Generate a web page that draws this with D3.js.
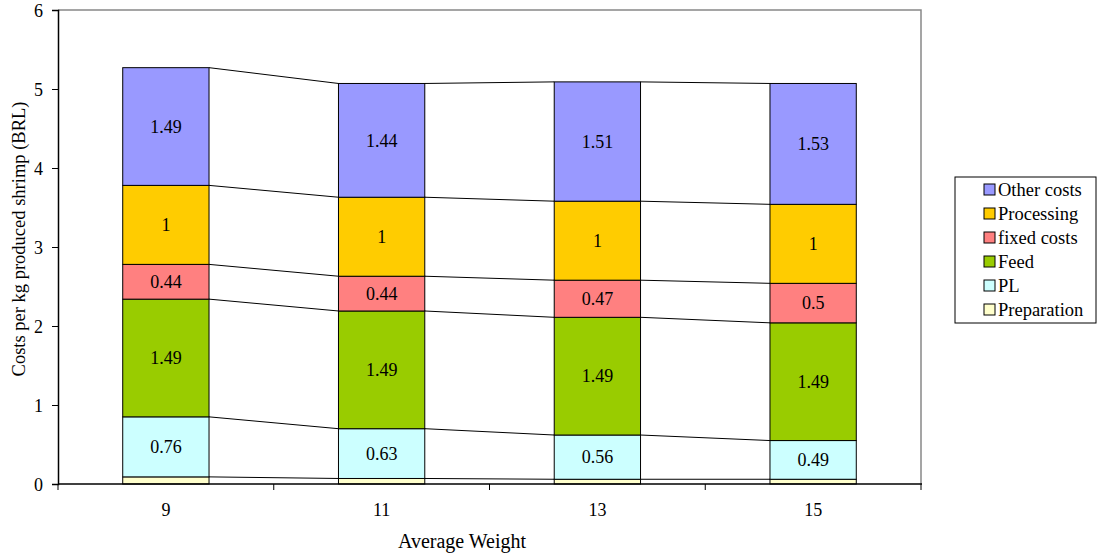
<!DOCTYPE html>
<html>
<head>
<meta charset="utf-8">
<script src="https://cdn.jsdelivr.net/npm/d3@7"></script>
<style>
  body { margin: 0; background: #fff; }
  svg { display: block; }
  svg text { font-family: "Liberation Serif", "DejaVu Serif", serif; fill: #000; }
</style>
</head>
<body>
<svg id="chart" width="1099" height="555"></svg>
<script>
// Cost components per kg of produced shrimp, by average harvest weight
const weights = ["9", "11", "13", "15"];
const seriesNames = ["Preparation", "PL", "Feed", "fixed costs", "Processing", "Other costs"];
const preparation = [0.09, 0.07, 0.06, 0.06];
const pl          = [0.76, 0.63, 0.56, 0.49];
const feed        = [1.49, 1.49, 1.49, 1.49];
const fixedCosts  = [0.44, 0.44, 0.47, 0.5];
const processing  = [1, 1, 1, 1];
const otherCosts  = [1.49, 1.44, 1.51, 1.53];
const yTicks = [0, 1, 2, 3, 4, 5, 6];

const seriesValues = [preparation, pl, feed, fixedCosts, processing, otherCosts];
const colors = ["#FFFFCC", "#CCFFFF", "#99CC00", "#FF8080", "#FFCC00", "#9999FF"];
const showLabel = [false, true, true, true, true, true];
const serif = "Liberation Serif, DejaVu Serif, serif";

const rows = weights.map((w, i) => {
  const r = { w };
  seriesNames.forEach((s, k) => { r[s] = seriesValues[k][i]; });
  return r;
});
const stacked = d3.stack().keys(seriesNames)(rows);

const svg = d3.select("#chart");
const pLeft = 58, pRight = 921, pTop = 10, pBottom = 484;

const x = d3.scaleBand().domain(weights).range([pLeft, pRight]).paddingInner(0.6).paddingOuter(0.3);
const xOuter = d3.scaleBand().domain(weights).range([pLeft, pRight]);
const y = d3.scaleLinear().domain([0, 6]).range([pBottom, pTop]);

// plot frame (top and right)
svg.append("path")
  .attr("d", `M${pLeft},${pTop}H${pRight}V${pBottom}`)
  .attr("fill", "none").attr("stroke", "#888").attr("stroke-width", 1.5);

// connector lines between stack boundaries of adjacent bars
stacked.forEach(layer => {
  for (let i = 0; i < weights.length - 1; i++) {
    svg.append("line")
      .attr("x1", x(weights[i]) + x.bandwidth())
      .attr("y1", y(layer[i][1]))
      .attr("x2", x(weights[i + 1]))
      .attr("y2", y(layer[i + 1][1]))
      .attr("stroke", "#000").attr("stroke-width", 1);
  }
});

// stacked bars
stacked.forEach((layer, k) => {
  const g = svg.append("g");
  g.selectAll("rect").data(layer).join("rect")
    .attr("x", (d, i) => x(weights[i]))
    .attr("y", d => y(d[1]))
    .attr("width", x.bandwidth())
    .attr("height", d => y(d[0]) - y(d[1]))
    .attr("fill", colors[k])
    .attr("stroke", "#000").attr("stroke-width", 1);
  if (showLabel[k]) {
    g.selectAll("text").data(layer).join("text")
      .attr("x", (d, i) => x(weights[i]) + x.bandwidth() / 2)
      .attr("y", d => (y(d[0]) + y(d[1])) / 2)
      .attr("dy", "0.35em")
      .attr("text-anchor", "middle")
      .attr("font-family", serif)
      .attr("font-size", 18)
      .text((d, i) => seriesValues[k][i]);
  }
});

// y axis
const yAxis = svg.append("g")
  .attr("transform", `translate(${pLeft},0)`)
  .call(d3.axisLeft(y).tickValues(yTicks).tickSize(6).tickPadding(9).tickFormat(d3.format("d")));
yAxis.select(".domain").attr("stroke", "#000").attr("stroke-width", 1.5);
yAxis.selectAll(".tick text").attr("font-size", 18).attr("font-family", serif).attr("dy", "0.38em");

// x axis: ticks at category boundaries
const xAxis = svg.append("g").attr("transform", `translate(0,${pBottom})`);
xAxis.append("line").attr("x1", pLeft).attr("x2", pRight + 1).attr("stroke", "#000").attr("stroke-width", 1.5);
xAxis.selectAll("line.tick").data(weights.concat(["end"])).join("line")
  .attr("class", "tick")
  .attr("x1", (d, i) => i < weights.length ? xOuter(d) : pRight)
  .attr("x2", (d, i) => i < weights.length ? xOuter(d) : pRight)
  .attr("y1", 0).attr("y2", 6).attr("stroke", "#000");
xAxis.selectAll("text").data(weights).join("text")
  .attr("x", d => x(d) + x.bandwidth() / 2)
  .attr("y", 32)
  .attr("text-anchor", "middle")
  .attr("font-family", serif)
  .attr("font-size", 18)
  .text(d => d);

// axis titles
svg.append("text")
  .attr("x", 462).attr("y", 548)
  .attr("text-anchor", "middle").attr("font-size", 20).attr("font-family", serif)
  .text("Average Weight");
svg.append("text")
  .attr("transform", `translate(25,239) rotate(-90)`)
  .attr("text-anchor", "middle").attr("font-size", 18.5).attr("font-family", serif)
  .text("Costs per kg produced shrimp (BRL)");

// legend
const lg = svg.append("g").attr("transform", "translate(955,177)");
lg.append("rect").attr("width", 141).attr("height", 146)
  .attr("fill", "#fff").attr("stroke", "#000").attr("stroke-width", 1);
const legendOrder = seriesNames.map((s, k) => k).reverse();
legendOrder.forEach((k, j) => {
  const row = lg.append("g").attr("transform", `translate(0,${13 + j * 24})`);
  row.append("rect").attr("x", 29).attr("y", -6).attr("width", 11).attr("height", 11)
    .attr("fill", colors[k]).attr("stroke", "#000").attr("stroke-width", 1);
  row.append("text").attr("x", 43).attr("y", 0).attr("dy", "0.35em")
    .attr("font-family", serif)
    .attr("font-size", 18.5).text(seriesNames[k]);
});
</script>
</body>
</html>
